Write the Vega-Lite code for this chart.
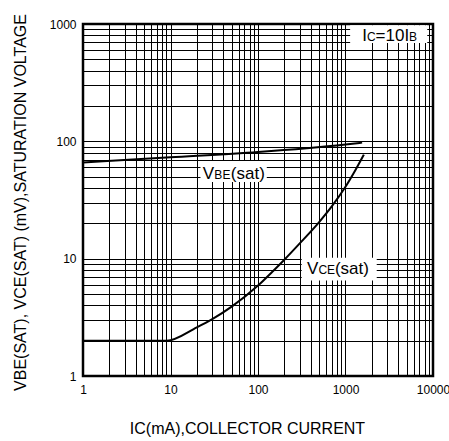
{
  "$schema": "https://vega.github.io/schema/vega-lite/v6.json",
  "width": 350,
  "height": 352,
  "autosize": "none",
  "padding": {"left": 83, "top": 24, "right": 16, "bottom": 65},
  "background": "white",
  "config": {
    "font": "Liberation Sans",
    "view": {"stroke": "black", "strokeWidth": 2.5},
    "axis": {
      "grid": true, "gridColor": "black", "gridWidth": 1, "gridOpacity": 1,
      "ticks": false, "domain": false,
      "labelFont": "Liberation Sans", "labelFontSize": 12, "labelColor": "black",
      "labelOverlap": false, "labelFlush": false, "labelBound": false,
      "titleFont": "Liberation Sans", "titleFontSize": 16, "titleFontWeight": "normal", "titleColor": "black"
    }
  },
  "datasets": {
    "curves": [
      {"series": "VBE(sat)", "x": 1, "y": 66},
      {"series": "VBE(sat)", "x": 10, "y": 73},
      {"series": "VBE(sat)", "x": 100, "y": 81},
      {"series": "VBE(sat)", "x": 1000, "y": 94},
      {"series": "VBE(sat)", "x": 1550, "y": 97.5},
      {"series": "VCE(sat)", "x": 1, "y": 2},
      {"series": "VCE(sat)", "x": 9, "y": 2},
      {"series": "VCE(sat)", "x": 20, "y": 2.6},
      {"series": "VCE(sat)", "x": 30, "y": 3.05},
      {"series": "VCE(sat)", "x": 50, "y": 3.9},
      {"series": "VCE(sat)", "x": 100, "y": 5.9},
      {"series": "VCE(sat)", "x": 150, "y": 7.9},
      {"series": "VCE(sat)", "x": 200, "y": 9.8},
      {"series": "VCE(sat)", "x": 300, "y": 13.5},
      {"series": "VCE(sat)", "x": 500, "y": 20.5},
      {"series": "VCE(sat)", "x": 700, "y": 28},
      {"series": "VCE(sat)", "x": 1000, "y": 41},
      {"series": "VCE(sat)", "x": 1300, "y": 57},
      {"series": "VCE(sat)", "x": 1620, "y": 77}
    ],
    "boxes": [
      {"name": "VBE", "x": 22, "x2": 126, "y": 45, "y2": 68},
      {"name": "VCE", "x": 316, "x2": 2274, "y": 6.5, "y2": 10.2},
      {"name": "IC", "x": 1130, "x2": 8600, "y": 690, "y2": 975}
    ],
    "labels": [
      {"name": "VBE", "x": 53, "y": 54, "big1": "V", "small1": "BE", "big2": "(sat)", "small2": ""},
      {"name": "VCE", "x": 820, "y": 8.3, "big1": "V", "small1": "CE", "big2": "(sat)", "small2": ""},
      {"name": "IC", "x": 3200, "y": 800, "big1": "I", "small1": "C", "big2": "=10I", "small2": "B"}
    ]
  },
  "encoding": {
    "x": {
      "field": "x", "type": "quantitative",
      "scale": {"type": "log", "domain": [1, 10000], "nice": false},
      "axis": {
        "values": [1,2,3,4,5,6,7,8,9,10,20,30,40,50,60,70,80,90,100,200,300,400,500,600,700,800,900,1000,2000,3000,4000,5000,6000,7000,8000,9000,10000],
        "labelExpr": "indexof([1,10,100,1000,10000], datum.value) >= 0 ? '' + datum.value : ''",
        "labelPadding": 8,
        "title": "IC(mA),COLLECTOR CURRENT",
        "titleX": 164, "titleY": 57, "titleAlign": "center", "titleBaseline": "alphabetic"
      }
    },
    "y": {
      "field": "y", "type": "quantitative",
      "scale": {"type": "log", "domain": [1, 1000], "nice": false},
      "axis": {
        "values": [1,2,3,4,5,6,7,8,9,10,20,30,40,50,60,70,80,90,100,200,300,400,500,600,700,800,900,1000],
        "labelExpr": "indexof([1,10,100,1000], datum.value) >= 0 ? '' + datum.value : ''",
        "labelPadding": 7,
        "title": "VBE(SAT), VCE(SAT) (mV),SATURATION VOLTAGE",
        "titleX": -58, "titleY": 178, "titleAngle": 270, "titleAlign": "center", "titleBaseline": "alphabetic"
      }
    }
  },
  "layer": [
    {
      "data": {"name": "boxes"},
      "mark": {"type": "rect", "fill": "white", "stroke": null},
      "encoding": {"x2": {"field": "x2"}, "y2": {"field": "y2"}}
    },
    {
      "data": {"name": "curves"},
      "mark": {"type": "line", "color": "black", "strokeWidth": 2, "interpolate": "monotone"},
      "encoding": {"detail": {"field": "series"}}
    },
    {
      "data": {"name": "labels"},
      "transform": [{"filter": "datum.name !== 'IC'"}],
      "mark": {"type": "text", "align": "left", "baseline": "alphabetic", "fontSize": 17, "dx": -31, "dy": 6, "color": "black"},
      "encoding": {"text": {"field": "big1"}}
    },
    {
      "data": {"name": "labels"},
      "transform": [{"filter": "datum.name !== 'IC'"}],
      "mark": {"type": "text", "align": "left", "baseline": "alphabetic", "fontSize": 12, "dx": -19.5, "dy": 6, "color": "black"},
      "encoding": {"text": {"field": "small1"}}
    },
    {
      "data": {"name": "labels"},
      "transform": [{"filter": "datum.name !== 'IC'"}],
      "mark": {"type": "text", "align": "left", "baseline": "alphabetic", "fontSize": 17, "dx": -3, "dy": 6, "color": "black"},
      "encoding": {"text": {"field": "big2"}}
    },
    {
      "data": {"name": "labels"},
      "transform": [{"filter": "datum.name === 'IC'"}],
      "mark": {"type": "text", "align": "left", "baseline": "alphabetic", "fontSize": 17, "dx": -27.5, "dy": 6, "color": "black"},
      "encoding": {"text": {"field": "big1"}}
    },
    {
      "data": {"name": "labels"},
      "transform": [{"filter": "datum.name === 'IC'"}],
      "mark": {"type": "text", "align": "left", "baseline": "alphabetic", "fontSize": 12, "dx": -22.8, "dy": 6, "color": "black"},
      "encoding": {"text": {"field": "small1"}}
    },
    {
      "data": {"name": "labels"},
      "transform": [{"filter": "datum.name === 'IC'"}],
      "mark": {"type": "text", "align": "left", "baseline": "alphabetic", "fontSize": 17, "dx": -14.1, "dy": 6, "color": "black"},
      "encoding": {"text": {"field": "big2"}}
    },
    {
      "data": {"name": "labels"},
      "transform": [{"filter": "datum.name === 'IC'"}],
      "mark": {"type": "text", "align": "left", "baseline": "alphabetic", "fontSize": 12, "dx": 19.4, "dy": 6, "color": "black"},
      "encoding": {"text": {"field": "small2"}}
    }
  ]
}
